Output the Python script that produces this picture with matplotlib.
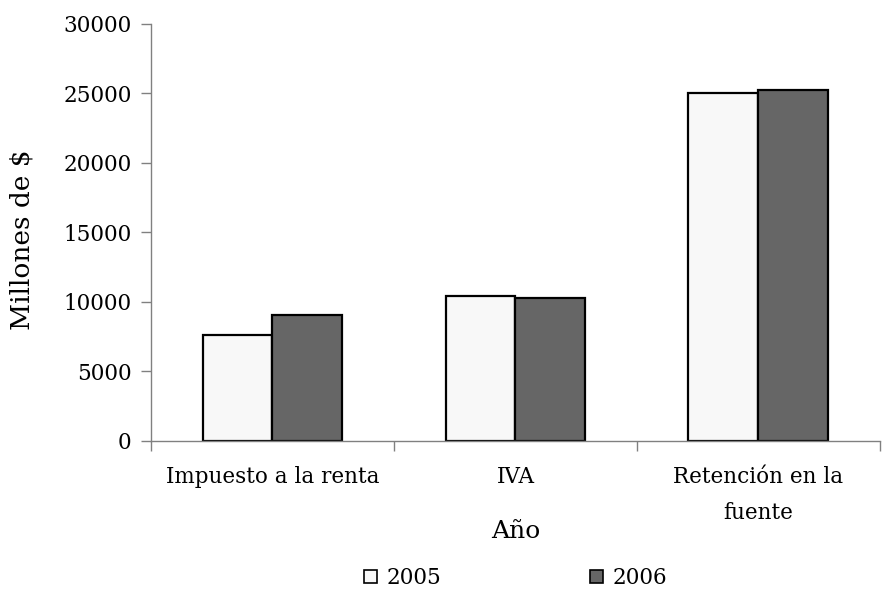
import numpy as np
import matplotlib.pyplot as plt
from matplotlib.patches import Patch

categories = ["Impuesto a la renta", "IVA", "Retención en la\nfuente"]
years = ["2005", "2006"]
values_2005 = [7600, 10450, 25000]
values_2006 = [9050, 10300, 25250]

plt.rcParams['font.family'] = ['DejaVu Serif']
plt.rcParams['font.size'] = 15.5

fig = plt.figure(figsize=(8.82, 5.92), dpi=100, facecolor='w')
ax = fig.add_axes([0.1712, 0.2551, 0.8265, 0.7044])

x = np.arange(len(categories))
w = 0.288
c05, c06 = '#f8f8f8', '#666666'
ax.bar(x - w / 2, values_2005, w, color=c05, edgecolor='black', linewidth=1.6)
ax.bar(x + w / 2, values_2006, w, color=c06, edgecolor='black', linewidth=1.6)

ax.set_xlim(-0.5, 2.5)
ax.set_ylim(0, 30000)
ax.set_yticks(range(0, 30001, 5000))
ax.set_xticks([-0.5, 0.5, 1.5, 2.5])
ax.set_xticklabels([])
ax.set_xticks(x, minor=True)
ax.set_xticklabels(categories, minor=True, linespacing=1.8)
ax.tick_params(axis='x', which='minor', length=0, pad=18)
ax.tick_params(axis='both', which='major', length=7, width=1, color='#808080')
ax.tick_params(axis='y', pad=7)

for s in ['top', 'right']:
    ax.spines[s].set_visible(False)
for s in ['left', 'bottom']:
    ax.spines[s].set_color('#808080')
    ax.spines[s].set_linewidth(1)

fig.text(22 / 882, 1 - 240 / 592, "Millones de $", rotation=90, ha='center', va='center',
         fontsize=19)
fig.text(515.5 / 882, 1 - 532 / 592, "Año", ha='center', va='center', fontsize=18)

handles = [Patch(facecolor=c05, edgecolor='black', linewidth=1.2),
           Patch(facecolor=c06, edgecolor='black', linewidth=1.2)]
fig.legend(handles, years, loc='center', bbox_to_anchor=(0.585, 1 - 578 / 592), ncol=2,
           frameon=False, handlelength=0.6, handleheight=0.6, handletextpad=0.45,
           columnspacing=6.9)

fig.savefig('out.png', dpi=100)
